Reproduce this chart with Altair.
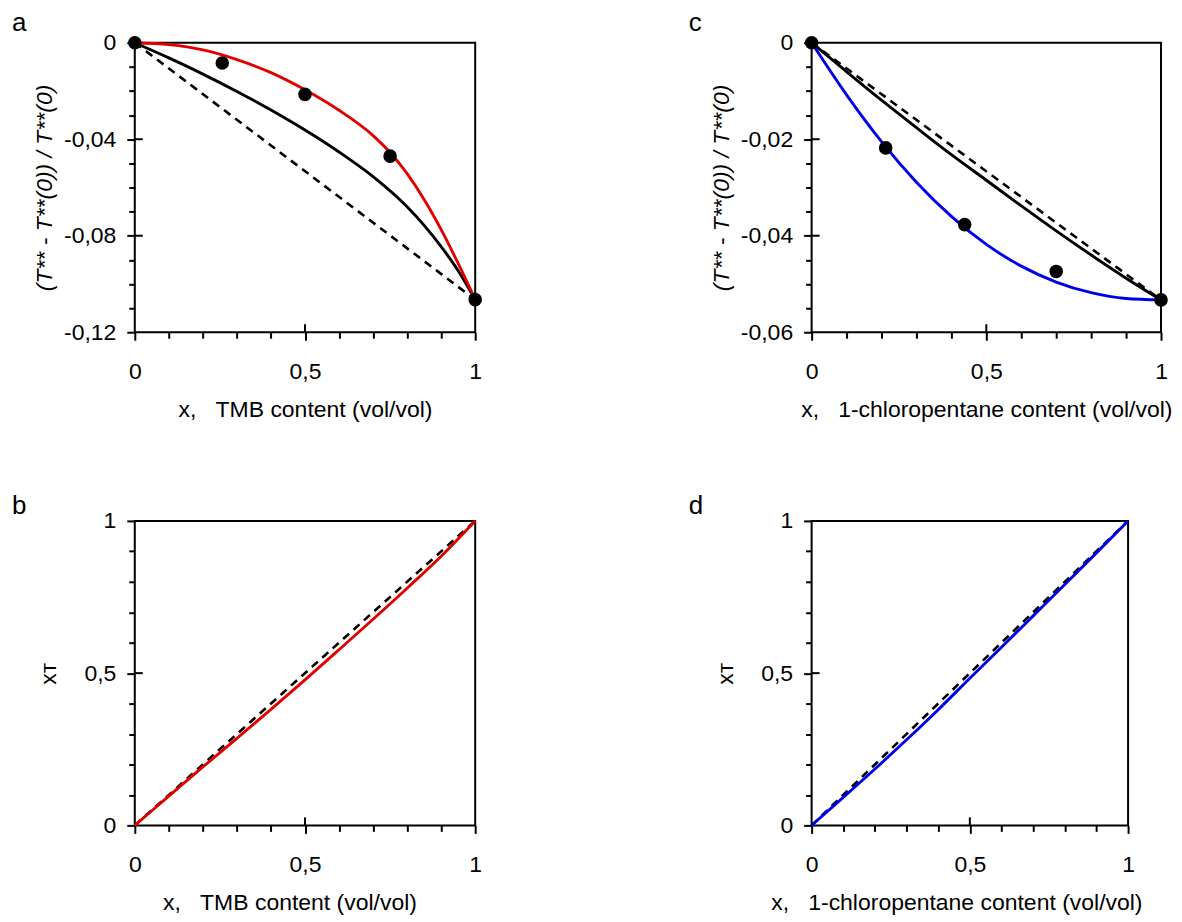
import altair as alt
import pandas as pd

FONT = "Liberation Sans"
RED = "#e00000"
BLUE = "#0000e6"

# ---------------- data ----------------
# panel a (TMB), relative temperature change
a_red_x = [0.0, 0.1, 0.2, 0.3, 0.4, 0.5, 0.6, 0.7, 0.75, 0.8, 0.85, 0.9, 0.95, 1.0]
a_red_y = [0.0, -0.0008, -0.0030, -0.0070, -0.0124, -0.0195, -0.0280, -0.0385, -0.0455,
           -0.0543, -0.0650, -0.0775, -0.0915, -0.1065]
a_blk_x = [0.0, 0.1, 0.2, 0.3, 0.4, 0.5, 0.6, 0.7, 0.8, 0.85, 0.9, 0.95, 1.0]
a_blk_y = [0.0, -0.0063, -0.0130, -0.0202, -0.0279, -0.0362, -0.0453, -0.0555, -0.0680,
           -0.0757, -0.0845, -0.0945, -0.1065]
a_dash_x = [0.0, 1.0]
a_dash_y = [0.0, -0.1065]
a_pts_x = [0.0, 0.257, 0.50, 0.75, 1.0]
a_pts_y = [0.0, -0.0084, -0.0214, -0.0470, -0.1065]

# panel c (1-chloropentane)
c_blue_x = [0.0, 0.1, 0.2, 0.3, 0.4, 0.5, 0.6, 0.7, 0.8, 0.9, 1.0]
c_blue_y = [0.0, -0.0108, -0.0205, -0.0289, -0.0360, -0.0418, -0.0463, -0.0496, -0.0518,
            -0.0530, -0.0533]
c_blk_x = [0.0, 0.1, 0.2, 0.3, 0.4, 0.5, 0.6, 0.7, 0.8, 0.9, 1.0]
c_blk_y = [0.0, -0.0060, -0.0119, -0.0176, -0.0232, -0.0285, -0.0338, -0.0390, -0.0440,
           -0.0488, -0.0533]
c_dash_x = [0.0, 1.0]
c_dash_y = [0.0, -0.0533]
c_pts_x = [0.0, 0.212, 0.438, 0.700, 1.0]
c_pts_y = [0.0, -0.0218, -0.0377, -0.0474, -0.0533]

# panel b (TMB), x_T
b_red_x = [0.0, 0.1, 0.2, 0.3, 0.4, 0.5, 0.6, 0.7, 0.8, 0.9, 1.0]
b_red_y = [0.0, 0.096, 0.192, 0.286, 0.381, 0.478, 0.577, 0.677, 0.779, 0.884, 1.0]
b_dash_x = [0.0, 1.0]
b_dash_y = [0.0, 1.0]

# panel d (1-chloropentane), x_T
d_blue_x = [0.0, 0.1, 0.2, 0.3, 0.4, 0.5, 0.6, 0.7, 0.8, 0.9, 1.0]
d_blue_y = [0.0, 0.092, 0.185, 0.281, 0.380, 0.483, 0.585, 0.688, 0.791, 0.895, 1.0]
d_dash_x = [0.0, 1.0]
d_dash_y = [0.0, 1.0]

# axes: tick values and labels
x_ticks = [0.0, 0.1, 0.2, 0.3, 0.4, 0.5, 0.6, 0.7, 0.8, 0.9, 1.0]
x_labels = {0.0: "0", 0.5: "0,5", 1.0: "1"}
x_mid = [0.5]
a_y_ticks = [0.0, -0.01, -0.02, -0.03, -0.04, -0.05, -0.06, -0.07, -0.08, -0.09, -0.10, -0.11, -0.12]
a_y_labels = {0.0: "0", -0.04: "-0,04", -0.08: "-0,08", -0.12: "-0,12"}
a_y_mid = [-0.04, -0.08]
c_y_ticks = [0.0, -0.005, -0.01, -0.015, -0.02, -0.025, -0.03, -0.035, -0.04, -0.045, -0.05, -0.055, -0.06]
c_y_labels = {0.0: "0", -0.02: "-0,02", -0.04: "-0,04", -0.06: "-0,06"}
c_y_mid = [-0.02, -0.04]
bd_y_ticks = [0.0, 0.1, 0.2, 0.3, 0.4, 0.5, 0.6, 0.7, 0.8, 0.9, 1.0]
bd_y_labels = {0.0: "0", 0.5: "0,5", 1.0: "1"}
bd_y_mid = [0.5]

Y_TITLE_TOP = "(T** - T**(0)) / T**(0)"
Y_TITLE_BOT = "x\u1d1b"
NB = "\u00a0"
X_TITLE_TMB = "x," + NB * 3 + "TMB content (vol/vol)"
X_TITLE_CP = "x," + NB * 3 + "1-chloropentane content (vol/vol)"

FS = 23


def label_expr(mapping):
    expr = "''"
    for v, s in reversed(list(mapping.items())):
        expr = f"datum.value == {v} ? '{s}' : ({expr})"
    return expr


def major_test(values):
    return " || ".join(f"datum.value == {v}" for v in values)


def df(xs, ys):
    return pd.DataFrame({"x": xs, "y": ys})


def panel(letter, title_offset, w, h, ydom, yticks, ylabels, ymid, ytitle, ytitle_italic,
          ytitle_pad, xtitle, dash, curves, pts, xtitle_x=None):
    xs = alt.Scale(domain=[0, 1], nice=False, zero=False)
    ys = alt.Scale(domain=ydom, nice=False, zero=False)
    common = dict(labelFont=FONT, labelFontSize=FS, labelColor="black", titleFont=FONT,
                  titleFontSize=FS, titleColor="black", titleFontWeight="normal",
                  tickColor="black", tickWidth=2, domain=False, grid=False,
                  labelOverlap=False, labelFlush=False)
    xextra = {} if xtitle_x is None else {"titleX": xtitle_x, "titleAlign": "center"}
    x_axis = alt.Axis(orient="bottom", values=x_ticks, labelExpr=label_expr(x_labels),
                      tickSize={"condition": {"test": major_test(list(x_labels)), "value": 8},
                                "value": 6},
                      labelPadding=20, title=xtitle, titlePadding=15, **xextra, **common)
    y_axis = alt.Axis(orient="left", values=yticks, labelExpr=label_expr(ylabels),
                      tickSize={"condition": {"test": major_test(list(ylabels)), "value": 8},
                                "value": 6},
                      labelPadding=11, title=ytitle, titlePadding=ytitle_pad,
                      titleFontStyle="italic" if ytitle_italic else "normal", **common)

    # identical axis definitions on every layer so that they merge into one pair
    X = lambda: alt.X("x:Q", scale=xs, axis=x_axis)
    Y = lambda: alt.Y("y:Q", scale=ys, axis=y_axis)

    layers = [
        alt.Chart(df(*dash)).mark_line(color="black", strokeWidth=2.6, strokeDash=[8, 6])
        .encode(x=X(), y=Y())
    ]
    for cx, cy, col in curves:
        layers.append(
            alt.Chart(df(cx, cy)).mark_line(color=col, strokeWidth=2.9, interpolate="monotone")
            .encode(x=X(), y=Y())
        )
    if pts is not None:
        layers.append(
            alt.Chart(df(*pts)).mark_circle(color="black", size=185, opacity=1)
            .encode(x=X(), y=Y())
        )
    # inward half of the crossing major ticks (placed on the axis lines via the scales)
    layers.append(
        alt.Chart(df(x_mid, [ydom[0]] * len(x_mid)))
        .mark_tick(orient="vertical", size=8, thickness=2, color="black", opacity=1, yOffset=-4)
        .encode(x=X(), y=Y())
    )
    layers.append(
        alt.Chart(df([0.0] * len(ymid), ymid))
        .mark_tick(orient="horizontal", size=8, thickness=2, color="black", opacity=1, xOffset=4)
        .encode(x=X(), y=Y())
    )
    title = alt.TitleParams(text=letter, anchor="start", frame="group", dx=-123,
                            font=FONT, fontSize=26, fontWeight="normal", color="black",
                            baseline="alphabetic", offset=title_offset)
    return alt.layer(*layers).properties(width=w, height=h, title=title)


pa = panel("a", -25, 341, 290, [-0.12, 0], a_y_ticks, a_y_labels, a_y_mid,
           Y_TITLE_TOP, True, 7, X_TITLE_TMB,
           (a_dash_x, a_dash_y), [(a_blk_x, a_blk_y, "black"), (a_red_x, a_red_y, RED)],
           (a_pts_x, a_pts_y))
pc = panel("c", -25, 350, 290, [-0.06, 0], c_y_ticks, c_y_labels, c_y_mid,
           Y_TITLE_TOP, True, 7, X_TITLE_CP,
           (c_dash_x, c_dash_y), [(c_blk_x, c_blk_y, "black"), (c_blue_x, c_blue_y, BLUE)],
           (c_pts_x, c_pts_y))
pb = panel("b", -30, 341, 305, [0, 1], bd_y_ticks, bd_y_labels, bd_y_mid,
           Y_TITLE_BOT, False, 23, X_TITLE_TMB,
           (b_dash_x, b_dash_y), [(b_red_x, b_red_y, RED)], None, xtitle_x=155)
pd_ = panel("d", -30, 317, 305, [0, 1], bd_y_ticks, bd_y_labels, bd_y_mid,
            Y_TITLE_BOT, False, 23, X_TITLE_CP,
            (d_dash_x, d_dash_y), [(d_blue_x, d_blue_y, BLUE)], None, xtitle_x=145)

chart = (alt.concat(pa, pc, pb, pd_, columns=2, spacing={"row": 189, "column": 337},
                    bounds="flush", align="each")
         .properties(padding={"left": 3, "top": 0, "right": 0, "bottom": 0},
                     background="white")
         .configure_view(stroke="black", strokeWidth=2))

chart.save("out.html", embed_options={"renderer": "svg", "actions": False})
